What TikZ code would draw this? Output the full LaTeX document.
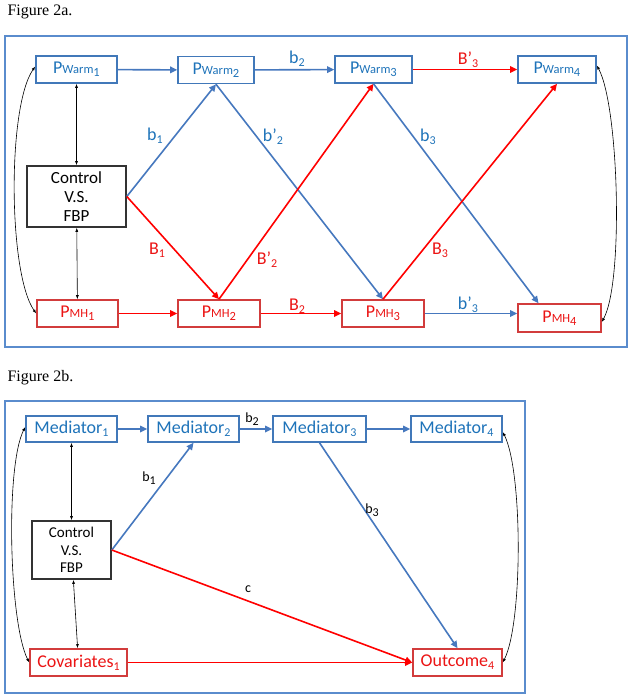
\documentclass[tikz,border=0pt]{standalone}
\usepackage{fontspec}
\setmainfont{Carlito}
\newfontfamily\figfont{Liberation Serif}
\usetikzlibrary{arrows.meta}
\definecolor{boxblue}{RGB}{65,120,185}
\definecolor{framblue}{RGB}{90,140,205}
\definecolor{txtblue}{RGB}{30,115,185}
\definecolor{arrblue}{RGB}{70,120,190}
\definecolor{boxred}{RGB}{210,60,60}
\definecolor{txtred}{RGB}{235,20,20}
\newcommand{\pvar}[2]{P{\fontsize{12.5}{12.5}\selectfont #1\raisebox{-3pt}{#2}}}
\newcommand{\lab}[2]{#1\raisebox{-3pt}{\fontsize{12}{12}\selectfont #2}}
\newcommand{\msub}[2]{#1\raisebox{-3pt}{\fontsize{12}{12}\selectfont #2}}

\begin{document}
\begin{tikzpicture}[x=1pt,y=-1pt,
    outerframe/.style={draw=framblue,line width=1.4pt},
    bluebox/.style={draw=boxblue,line width=1.6pt,text=txtblue,inner sep=0pt,font=\fontsize{18}{18}\selectfont},
    redbox/.style={draw=boxred,line width=1.6pt,text=txtred,inner sep=0pt,font=\fontsize{18}{18}\selectfont},
    ctrlbox/.style={draw=black!80,line width=1.6pt,inner sep=0pt,align=center},
    bluearr/.style={draw=arrblue,line width=1.6pt,-{Triangle[length=7pt,width=6.5pt]}},
    redarr/.style={draw=red,line width=1.6pt,-{Triangle[length=7pt,width=6.5pt]}},
    bothway/.style={draw=black,line width=0.6pt,{Latex[length=4pt,width=3pt]}-{Latex[length=4pt,width=3pt]}},
    bluelab/.style={text=txtblue,font=\fontsize{18}{18}\selectfont},
    redlab/.style={text=txtred,font=\fontsize{18}{18}\selectfont},
    blacklab/.style={text=black,font=\fontsize{14}{14}\selectfont}]
    \useasboundingbox (0,0) rectangle (632,698);

    \node[anchor=base west,font=\figfont\fontsize{16}{16}\selectfont] (titleA) at (4,16) {Figure 2a.};
    \draw[outerframe] (5,36) rectangle (627,347);

    \node[bluebox,minimum width=81pt,minimum height=27pt] (pwA) at (76.5,69.5) {\pvar{Warm}{1}};
    \node[bluebox,minimum width=76pt,minimum height=27pt] (pwB) at (216,70) {\pvar{Warm}{2}};
    \node[bluebox,minimum width=77pt,minimum height=27pt] (pwC) at (373.5,69.5) {\pvar{Warm}{3}};
    \node[bluebox,minimum width=78pt,minimum height=27pt] (pwD) at (557,69.5) {\pvar{Warm}{4}};

    \node[ctrlbox,minimum width=99pt,minimum height=61pt,font=\fontsize{17}{19}\selectfont] (ctrlA) at (76.5,196.5) {Control\\V.S.\\FBP};

    \node[redbox,minimum width=81pt,minimum height=27pt] (pmA) at (77.5,313.5) {\pvar{MH}{1}};
    \node[redbox,minimum width=82pt,minimum height=27pt] (pmB) at (219,313.5) {\pvar{MH}{2}};
    \node[redbox,minimum width=82pt,minimum height=27pt] (pmC) at (383,313.5) {\pvar{MH}{3}};
    \node[redbox,minimum width=83pt,minimum height=28pt] (pmD) at (559.5,318) {\pvar{MH}{4}};

    \draw[bluearr] (pwA) -- (pwB);
    \draw[bluearr] (pwB) -- (pwC);
    \draw[redarr] (pwC) -- (pwD);
    \draw[redarr] (pmA) -- (pmB);
    \draw[redarr] (pmB) -- (pmC);
    \draw[bluearr] (pmC.east) -- (pmC.east -| pmD.west);

    \draw[bothway] (pwA) -- (ctrlA);
    \draw[bothway] (ctrlA) -- (pmA);

    \draw[bluearr] (ctrlA.east) -- (pwB.south);
    \draw[redarr] (ctrlA.east) -- (pmB.north);
    \draw[bluearr] (pwB.south) -- (pmC.north);
    \draw[redarr] (pmB.north) -- (pwC.south);
    \draw[bluearr] (pwC.south) -- ([xshift=-21pt]pmD.north);
    \draw[redarr] (pmC.north) -- (pwD.south);

    \draw[bothway] ([yshift=3pt]pwA.west) .. controls +(-28,40) and +(-28,-40) .. (pmA.west);
    \draw[bothway] ([yshift=4pt]pwD.east) .. controls +(22,40) and +(22,-40) .. ([yshift=-4pt]pmD.east);

    \node[bluelab] (lbA) at (297,59) {\lab{b}{2}};
    \node[redlab] (lbB) at (468,60) {\lab{B’}{3}};
    \node[bluelab] (lbC) at (155,136) {\lab{b}{1}};
    \node[bluelab] (lbD) at (273,137) {\lab{b’}{2}};
    \node[bluelab] (lbE) at (428,137) {\lab{b}{3}};
    \node[redlab] (lbF) at (157,250) {\lab{B}{1}};
    \node[redlab] (lbG) at (267,260) {\lab{B’}{2}};
    \node[redlab] (lbH) at (440,250) {\lab{B}{3}};
    \node[redlab] (lbI) at (297,306) {\lab{B}{2}};
    \node[bluelab] (lbJ) at (468,305) {\lab{b’}{3}};

    \node[anchor=base west,font=\figfont\fontsize{16}{16}\selectfont] (titleB) at (4,381) {Figure 2b.};
    \draw[outerframe] (5,401) rectangle (525,693);

    \node[bluebox,minimum width=91pt,minimum height=26pt] (medA) at (71.5,429) {\msub{Mediator}{1}};
    \node[bluebox,minimum width=91pt,minimum height=26pt] (medB) at (193.5,429) {\msub{Mediator}{2}};
    \node[bluebox,minimum width=93pt,minimum height=26pt] (medC) at (319.5,429) {\msub{Mediator}{3}};
    \node[bluebox,minimum width=91pt,minimum height=26pt] (medD) at (456.5,429) {\msub{Mediator}{4}};

    \node[ctrlbox,minimum width=79pt,minimum height=58pt,font=\fontsize{15}{17.5}\selectfont] (ctrlB) at (71.5,550) {Control\\V.S.\\FBP};

    \node[redbox,minimum width=97pt,minimum height=27pt] (covA) at (78.5,662.5) {\msub{Covariates}{1}};
    \node[redbox,minimum width=89pt,minimum height=27pt] (outD) at (457.5,662.5) {\msub{Outcome}{4}};

    \draw[bluearr] (medA) -- (medB);
    \draw[bluearr] (medB) -- (medC);
    \draw[bluearr] (medC) -- (medD);
    \draw[redarr] (covA) -- (outD);

    \draw[bothway] (medA) -- (ctrlB);
    \draw[bothway] (ctrlB) -- (covA);

    \draw[bluearr] (ctrlB.east) -- (medB.south);
    \draw[bluearr] (medC.south) -- (outD.north);
    \draw[redarr] (ctrlB.east) -- (outD.west);

    \draw[bothway] ([yshift=2pt]medA.west) .. controls +(-20,40) and +(-20,-40) .. (covA.west);
    \draw[bothway] ([yshift=-3pt]medD.east) .. controls +(20,40) and +(20,-40) .. (outD.east);

    \node[blacklab] (lbK) at (252,419) {\lab{b}{2}};
    \node[blacklab] (lbL) at (149,478) {\lab{b}{1}};
    \node[blacklab] (lbM) at (372,510) {\lab{b}{3}};
    \node[blacklab] (lbN) at (248,589) {c};
\end{tikzpicture}
\end{document}
